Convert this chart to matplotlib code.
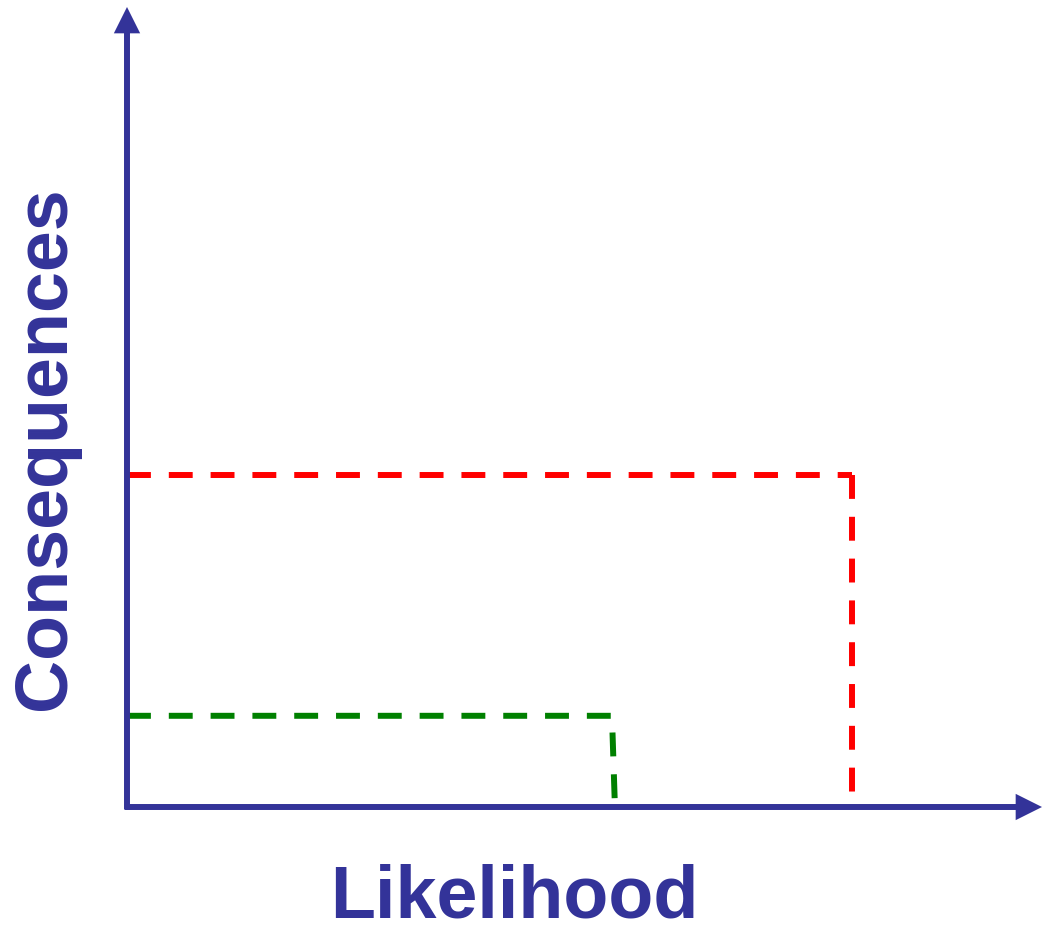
import matplotlib
matplotlib.use("Agg")
import matplotlib.pyplot as plt

BLUE = "#333399"
RED = "#FF0000"
GREEN = "#008000"

# risk scenarios, in axis percent (likelihood, consequences)
red_x = [0.0, 79.2, 79.2]
red_y = [41.5, 41.5, 1.5]
green_x = [0.0, 53.0, 53.3]
green_y = [11.4, 11.4, 0.9]

fig = plt.figure(figsize=(10.42, 9.27), dpi=100)
fig.patch.set_facecolor("white")
ax = fig.add_axes([127 / 1042, 120 / 927, 915 / 1042, 800 / 927])
ax.set_xlim(0, 100)
ax.set_ylim(0, 100)
ax.axis("off")

lw = 4.3
dash = (0, (4.0, 3.0))
# red drawn as two strokes, each starting with a dash
ax.plot(red_x[:2], red_y[:2], color=RED, lw=lw, linestyle=dash, clip_on=False)
ax.plot(red_x[1:], red_y[1:], color=RED, lw=lw, linestyle=dash, clip_on=False)
ax.plot(green_x, green_y, color=GREEN, lw=lw, linestyle=dash, clip_on=False)

arrow = dict(arrowstyle="-|>,head_length=0.8,head_width=0.4", color=BLUE,
             lw=lw, mutation_scale=15, shrinkA=0, shrinkB=0,
             joinstyle="miter", capstyle="butt")
ax.annotate("", xy=(100, 0), xytext=(-0.25, 0), arrowprops=arrow, annotation_clip=False)
ax.annotate("", xy=(0, 100), xytext=(0, -0.3), arrowprops=arrow, annotation_clip=False)

font = dict(family=["Liberation Sans", "DejaVu Sans"], fontsize=53,
            fontweight="bold", color=BLUE)
fig.text(514 / 1042, 1 - 917 / 927, "Likelihood", ha="center", va="baseline", **font)
fig.text(46 / 1042, 1 - 448 / 927, "Consequences", ha="center", va="center",
         rotation=90, **font)

fig.savefig("out.png", dpi=100, facecolor="white")
